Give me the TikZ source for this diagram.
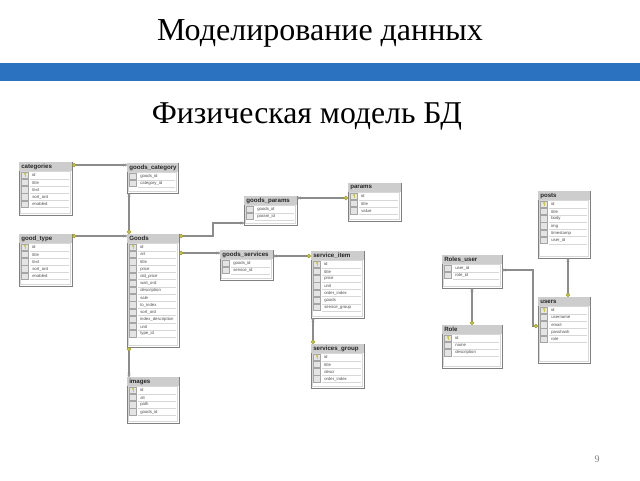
\documentclass[tikz,border=0pt]{standalone}
\usepackage{fontspec}
\setmainfont{Liberation Serif}
\setsansfont{Liberation Sans}
\usetikzlibrary{arrows.meta}

\definecolor{barblue}{RGB}{43,115,193}
\definecolor{tableborder}{RGB}{128,128,128}
\definecolor{headgray}{RGB}{205,205,205}
\definecolor{cellgray}{RGB}{228,228,228}
\definecolor{cellborder}{RGB}{165,165,165}
\definecolor{rowgray}{RGB}{215,215,215}
\definecolor{linegray}{RGB}{140,140,140}
\definecolor{keyyellow}{RGB}{205,200,60}
\definecolor{keyedge}{RGB}{150,150,40}

\def\px{0.75pt}

\tikzset{
  tablebox/.style={draw=tableborder, line width=0.6pt, fill=white, anchor=north west, inner sep=0pt, outer sep=0pt},
  headfill/.style={fill=headgray},
  headtext/.style={font=\sffamily\bfseries\fontsize{4.6}{5}\selectfont, text=black!85, inner sep=0pt, anchor=west},
  coltext/.style={font=\sffamily\fontsize{3.2}{3.6}\selectfont, text=black!70, inner sep=0pt, anchor=west},
  keycell/.style={fill=cellgray, draw=cellborder, line width=0.3pt},
  rowline/.style={draw=rowgray, line width=0.3pt},
  innerline/.style={draw=rowgray, line width=0.3pt},
  rel/.style={draw=linegray, line width=1.3pt},
  pk/.tip={Circle[fill=keyyellow, color=keyedge, line width=0.4pt, length=3.2pt]},
  fk/.tip={Circle[open, line width=0.5pt, length=2pt, sep=-0.3pt] Circle[open, line width=0.5pt, length=2pt]},
}

% #1 name, #2 x, #3 y, #4 width, #5 height, #6 title, #7 columns
\newcommand{\erdtable}[7]{%
  \node[tablebox, minimum width=#4*\px, minimum height=#5*\px] (#1) at (#2,#3) {};
  \fill[headfill] ([shift={(0.3,0.3)}]#1.north west) rectangle ([shift={(#4-0.3,9)}]#1.north west);
  \draw[innerline] ([shift={(1.5,9)}]#1.north west) rectangle ([shift={(#4-1.5,#5-1.5)}]#1.north west);
  \node[headtext] (#1-title) at ([shift={(2,4.7)}]#1.north west) {#6};
  \foreach \col [count=\i] in {#7} {
    \pgfmathsetmacro\ry{10+7.2*(\i-1)}
    \draw[keycell] ([shift={(2.5,\ry)}]#1.north west) rectangle ([shift={(9.5,\ry+6.4)}]#1.north west);
    \draw[rowline] ([shift={(11,\ry+6.8)}]#1.north west) -- ([shift={(#4-3,\ry+6.8)}]#1.north west);
    \node[coltext] (#1-\i) at ([shift={(13,\ry+3.4)}]#1.north west) {\col};
  }
}
\newcommand{\pkicon}[1]{%
  \fill[keyyellow] ([shift={(6,11.8)}]#1.north west) circle (0.9pt);
  \draw[keyyellow, line width=0.5pt] ([shift={(6,11.8)}]#1.north west) -- ([shift={(6,15.4)}]#1.north west);
}

\begin{document}
\begin{tikzpicture}[x=0.75pt, y=-0.75pt]
  \useasboundingbox (0,0) rectangle (640,480);

  % titles
  \node[font=\fontsize{24}{28}\selectfont] (title) at (320,33) {Моделирование данных};
  \fill[barblue] (0,63) rectangle (640,81);
  \node[font=\fontsize{23.8}{28}\selectfont] (subtitle) at (307,116) {Физическая модель БД};

  % tables
  \erdtable{categories}{19}{162}{53}{53}{categories}{id,title,text,sort\_ord,enabled}
  \erdtable{goodscat}{127}{163}{51}{30}{goods\_category}{goods\_id,category\_id}
  \erdtable{goodtype}{19}{234}{53}{52}{good\_type}{id,title,text,sort\_ord,enabled}
  \erdtable{goods}{127}{234}{52}{113}{Goods}{id,art,title,price,old\_price,wait\_ord,description,sale,to\_index,sort\_ord,index\_description,unit,type\_id}
  \erdtable{images}{127}{377}{52}{46}{images}{id,alt,path,goods\_id}
  \erdtable{goodsparams}{244}{196}{53}{29}{goods\_params}{goods\_id,param\_id}
  \erdtable{params}{348}{183}{53}{38}{params}{id,title,value}
  \erdtable{goodsservices}{220}{250}{53}{30}{goods\_services}{goods\_id,service\_id}
  \erdtable{serviceitem}{311}{251}{53}{67}{service\_item}{id,title,price,unit,order\_index,goods,service\_group}
  \erdtable{servicesgroup}{311}{344}{53}{44}{services\_group}{id,title,descr,order\_index}
  \erdtable{posts}{538}{191}{52}{67}{posts}{id,title,body,img,timestamp,user\_id}
  \erdtable{users}{538}{297}{52}{66}{users}{id,username,email,passhash,role}
  \erdtable{rolesuser}{442}{255}{60}{33}{Roles\_user}{user\_id,role\_id}
  \erdtable{role}{442}{325}{60}{43}{Role}{id,name,description}

  \foreach \t in {categories,goodtype,goods,images,params,serviceitem,servicesgroup,posts,users,role}
    \pkicon{\t};

  % relations
  \draw[rel, pk-fk] ([shift={(0,3)}]categories.north east) -- ([shift={(0,2)}]goodscat.north west);
  \draw[rel, fk-pk] ([shift={(2,0)}]goodscat.south west) -- ([shift={(2,0)}]goods.north west);
  \draw[rel, pk-fk] ([shift={(0,2)}]goodtype.north east) -- ([shift={(0,2)}]goods.north west);
  \draw[rel, pk-fk] ([shift={(2,0)}]goods.south west) -- ([shift={(2,0)}]images.north west);
  \draw[rel, pk-fk] ([shift={(0,2)}]goods.north east) -- ++(34,0) |- ([shift={(0,27)}]goodsparams.north west);
  \draw[rel, pk-fk] ([shift={(0,19)}]goods.north east) -- ([shift={(0,3)}]goodsservices.north west);
  \draw[rel, fk-pk] ([shift={(0,2)}]goodsparams.north east) -- ([shift={(0,15)}]params.north west);
  \draw[rel, fk-pk] ([shift={(0,6)}]goodsservices.north east) -- ([shift={(0,5)}]serviceitem.north west);
  \draw[rel, fk-pk] ([shift={(2,0)}]serviceitem.south west) -- ([shift={(2,0)}]servicesgroup.north west);
  \draw[rel, fk-pk] ([shift={(30,0)}]posts.south west) -- ([shift={(30,0)}]users.north west);
  \draw[rel, fk-pk] ([shift={(30,0)}]rolesuser.south west) -- ([shift={(30,0)}]role.north west);
  \draw[rel, fk-pk] ([shift={(0,15)}]rolesuser.north east) -- ++(31,0) |- ([shift={(0,29)}]users.north west);

  \node[font=\fontsize{7.5}{9}\selectfont, text=gray] (pagenum) at (597,459) {9};
\end{tikzpicture}
\end{document}
